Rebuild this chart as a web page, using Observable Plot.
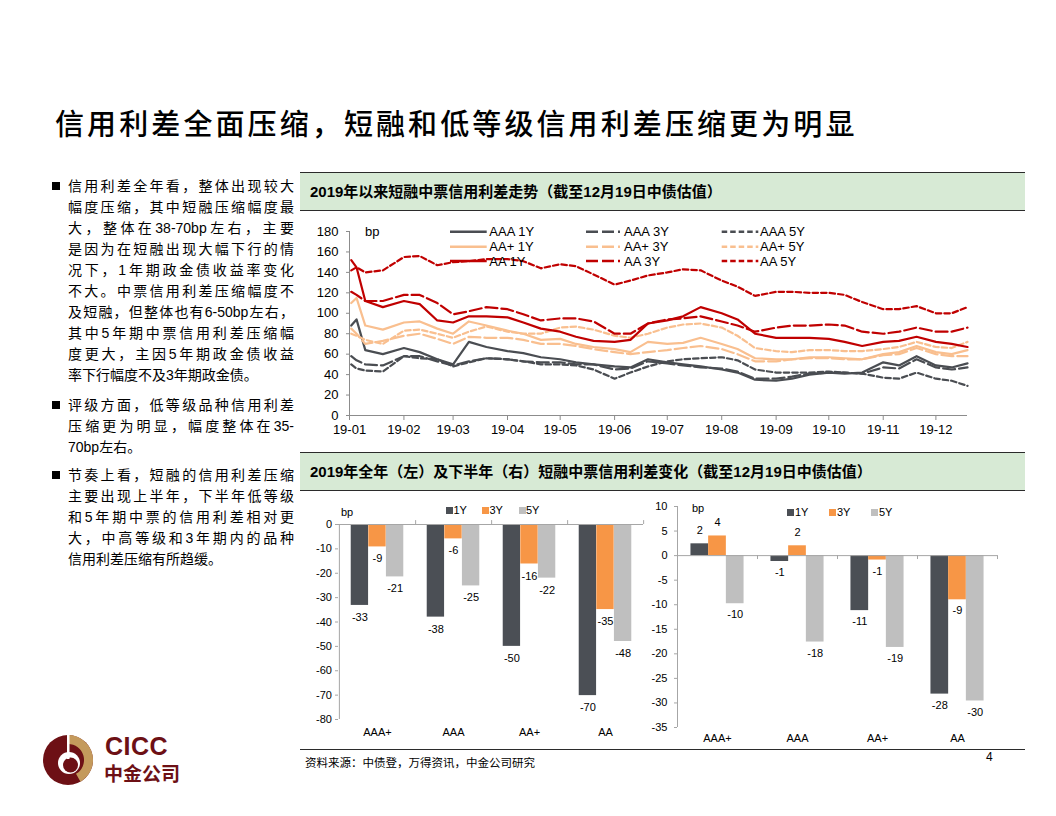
<!DOCTYPE html>
<html><head><meta charset="utf-8">
<script src="https://cdn.jsdelivr.net/npm/d3@7"></script>
<script src="https://cdn.jsdelivr.net/npm/@observablehq/plot@0.6"></script>
<style>
html,body{margin:0;padding:0;background:#fff;}
#page{position:relative;width:1056px;height:816px;overflow:hidden;background:#fff;font-family:"Liberation Sans","Noto Sans CJK SC",sans-serif;color:#000;}
.a{position:absolute;}
#title{position:absolute;left:55px;top:103px;font-family:"Noto Sans CJK SC";font-size:29px;font-weight:500;letter-spacing:3.1px;white-space:nowrap;line-height:38px;}
.bul{position:absolute;left:52px;width:8px;height:8px;background:#000;}
.ln{position:absolute;left:68px;width:226px;font-family:"Liberation Sans","Noto Sans CJK SC",sans-serif;font-size:14px;line-height:21px;height:21px;text-align:justify;text-align-last:justify;white-space:normal;}
.ln.last{text-align-last:left;}
.band{position:absolute;left:300px;width:715px;height:37px;background:#d7ead5;border-top:1.5px solid #2b2b2b;border-bottom:1.5px solid #2b2b2b;font-family:"Liberation Sans","Noto Sans CJK SC";font-weight:700;font-size:15px;line-height:37px;padding-left:10px;white-space:nowrap;}
.sq{position:absolute;width:7px;height:7px;}
.lg{position:absolute;font-size:11px;line-height:12px;}
</style></head><body><div id="page"></div>
<script>
// ---------- data ----------
const dates = ["2019-01-02","2019-01-05","2019-01-10","2019-01-20","2019-02-01","2019-02-10","2019-02-20","2019-03-01","2019-03-10","2019-03-20","2019-04-01","2019-04-10","2019-04-20","2019-05-01","2019-05-10","2019-05-20","2019-06-01","2019-06-10","2019-06-20","2019-07-01","2019-07-10","2019-07-20","2019-08-01","2019-08-10","2019-08-20","2019-09-01","2019-09-10","2019-09-20","2019-10-01","2019-10-10","2019-10-20","2019-11-01","2019-11-10","2019-11-20","2019-12-01","2019-12-10","2019-12-19"];
const AAA_1Y = [88,94,64,60,66,62,55,50,72,67,63,61,57,55,52,50,48,47,55,52,50,48,45,42,35,34,36,40,42,41,42,52,49,58,49,47,51];
const AAA_3Y = [58,54,50,49,58,58,53,49,53,56,55,53,52,52,50,50,45,46,53,51,49,47,46,43,36,36,38,41,42,42,41,47,46,55,47,45,47];
const AAA_5Y = [50,46,44,43,58,56,55,48,52,56,55,53,50,50,49,45,36,42,48,53,55,56,57,54,45,42,42,42,43,42,41,37,36,42,36,34,29];
const AAp_1Y = [110,115,88,84,91,92,85,80,92,88,83,80,74,75,70,67,65,62,72,70,71,76,70,65,56,55,55,57,57,56,55,60,62,68,62,60,64];
const AAp_3Y = [85,80,70,73,78,80,75,70,77,76,76,74,70,70,68,65,62,60,62,64,66,68,65,60,53,53,55,56,56,55,55,59,60,66,60,58,58];
const AAp_5Y = [80,78,74,70,83,84,80,76,82,87,82,80,80,86,87,84,78,76,80,86,89,90,86,78,66,63,62,64,64,63,63,65,67,72,67,66,72];
const AA_1Y = [152,145,112,106,112,109,93,91,97,97,96,91,85,82,77,73,72,74,90,93,97,106,100,94,80,76,76,76,75,72,68,72,73,77,72,70,67];
const AA_3Y = [121,118,112,112,118,118,110,99,102,106,104,99,93,95,95,92,80,80,90,94,95,97,92,88,82,86,88,88,89,88,82,80,82,86,82,82,86];
const AA_5Y = [142,145,140,142,155,156,147,150,151,153,153,151,144,148,146,138,128,132,137,140,143,142,132,126,117,121,121,120,120,118,111,104,104,107,100,100,106];
const lineSeries = [
  {name:"AAA 1Y", values:AAA_1Y},{name:"AAA 3Y", values:AAA_3Y},{name:"AAA 5Y", values:AAA_5Y},
  {name:"AA+ 1Y", values:AAp_1Y},{name:"AA+ 3Y", values:AAp_3Y},{name:"AA+ 5Y", values:AAp_5Y},
  {name:"AA 1Y", values:AA_1Y},{name:"AA 3Y", values:AA_3Y},{name:"AA 5Y", values:AA_5Y}
];
const legendOrder = [["AAA 1Y","AA+ 1Y","AA 1Y"],["AAA 3Y","AA+ 3Y","AA 3Y"],["AAA 5Y","AA+ 5Y","AA 5Y"]];
const lineTicks = [0,20,40,60,80,100,120,140,160,180];

const grades = ["AAA+","AAA","AA+","AA"];
const tenors = ["1Y","3Y","5Y"];
const full_1Y = [-33.2,-38.0,-50.0,-70.2];
const full_3Y = [-9.2,-5.9,-16.2,-34.9];
const full_5Y = [-21.5,-25.2,-22.0,-48.0];
const h2_1Y = [2.4,-1.2,-11.2,-28.2];
const h2_3Y = [4.0,2.0,-0.9,-9.0];
const h2_5Y = [-9.8,-17.6,-18.7,-29.6];
const fullTicks = [0,-10,-20,-30,-40,-50,-60,-70,-80];
const h2Ticks = [10,5,0,-5,-10,-15,-20,-25,-30,-35];

// ---------- styles ----------
const gradeColor = {"AAA":"#4a4d52","AA+":"#f9bf8f","AA":"#c00000"};
const tenorDash = {"1Y":null,"3Y":"12,4","5Y":"5.5,3"};
const barColor = {"1Y":"#4b4f55","3Y":"#f79646","5Y":"#bfbfbf"};
const axisGray = "#8c8c8c";

const page = document.getElementById("page");
function add(html){ page.insertAdjacentHTML("beforeend", html); }

// ---------- title & text ----------
add(`<div id="title">信用利差全面压缩，短融和低等级信用利差压缩更为明显</div>`);
const para1 = ["信用利差全年看，整体出现较大","幅度压缩，其中短融压缩幅度最","大，整体在38-70bp左右，主要","是因为在短融出现大幅下行的情","况下，1年期政金债收益率变化","不大。中票信用利差压缩幅度不","及短融，但整体也有6-50bp左右，","其中5年期中票信用利差压缩幅","度更大，主因5年期政金债收益","率下行幅度不及3年期政金债。"];
const para2 = ["评级方面，低等级品种信用利差","压缩更为明显，幅度整体在35-","70bp左右。"];
const para3 = ["节奏上看，短融的信用利差压缩","主要出现上半年，下半年低等级","和5年期中票的信用利差相对更","大，中高等级和3年期内的品种","信用利差压缩有所趋缓。"];
function para(lines, top){
  add(`<div class="bul" style="top:${top+6.5}px"></div>`);
  lines.forEach((t,i)=>{
    const last = i===lines.length-1;
    add(`<div class="ln${last?" last":""}" style="top:${top+i*21.1}px">${t}</div>`);
  });
}
para(para1,175.5); para(para2,394.5); para(para3,464.5);

add(`<div class="band" style="top:172px">2019年以来短融中票信用利差走势（截至12月19日中债估值）</div>`);
add(`<div class="band" style="top:452px">2019年全年（左）及下半年（右）短融中票信用利差变化（截至12月19日中债估值）</div>`);

// ---------- line chart ----------
const parse = d3.utcParse("%Y-%m-%d");
const lineRows = lineSeries.flatMap(s => dates.map((d,i)=>({date:parse(d), value:s.values[i], series:s.name})));
const xDomain = [parse("2019-01-01"), parse("2019-12-19")];
const months = d3.utcMonth.range(parse("2019-01-01"), parse("2019-12-02"));
const linePlot = Plot.plot({
  width:730, height:230, marginLeft:49, marginRight:63, marginTop:16, marginBottom:30,
  style:{fontFamily:"'Liberation Sans', Arial, sans-serif", fontSize:"13px", color:"#000", background:"transparent", overflow:"visible"},
  x:{type:"utc", domain:xDomain},
  y:{domain:[0,180]},
  marks:[
    Plot.axisY({ticks:lineTicks, tickSize:3, tickPadding:8, stroke:axisGray, fill:"#000", label:null, tickFormat:d=>String(d)}),
    Plot.axisX({ticks:months, tickFormat:d3.utcFormat("%y-%m"), tickSize:5, tickPadding:4, stroke:axisGray, fill:"#000", label:null}),
    Plot.ruleX([xDomain[0]], {stroke:axisGray}),
    Plot.ruleY([0], {stroke:axisGray}),
    ...lineSeries.map(s => {
      const [g,t] = s.name.split(" ");
      return Plot.line(lineRows.filter(r=>r.series===s.name), {x:"date", y:"value", stroke:gradeColor[g], strokeWidth:2.2, strokeDasharray:tenorDash[t]});
    })
  ]
});
const lw = document.createElement("div");
lw.className="a"; lw.style.left="300px"; lw.style.top="215px";
lw.appendChild(linePlot); page.appendChild(lw);

// legend overlay for line chart
(function(){
  const svg = d3.select(page).append("svg").attr("class","a").style("left","300px").style("top","215px")
    .attr("width",730).attr("height",60).style("overflow","visible");
  const colX = [[150,186.7,189.3],[286,320,324],[421.7,458.3,460]];
  const rowY = [16.7,31.7,46];
  legendOrder.forEach((col,ci)=>col.forEach((name,ri)=>{
    const [g,t] = name.split(" ");
    svg.append("line").attr("x1",colX[ci][0]).attr("x2",colX[ci][1]).attr("y1",rowY[ri]).attr("y2",rowY[ri])
      .attr("stroke",gradeColor[g]).attr("stroke-width",2.4).attr("stroke-dasharray",tenorDash[t]);
    svg.append("text").attr("x",colX[ci][2]).attr("y",rowY[ri]).attr("dy","0.36em").text(name)
      .style("font-family","'Liberation Sans', Arial, sans-serif").style("font-size","13px");
  }));
  svg.append("text").attr("x",65).attr("y",16.7).attr("dy","0.36em").text("bp")
    .style("font-family","'Liberation Sans', Arial, sans-serif").style("font-size","13px");
})();

// ---------- bar charts ----------
function barPlot(vals, o){
  const rows = tenors.flatMap(t => grades.map((g,i)=>({grade:g, tenor:t, value:vals[t][i]})));
  const bw = (o.width - o.ml - o.mr)/grades.length;
  const inset = (bw - o.barW)/2;
  const off = {"1Y":-o.barW, "3Y":0, "5Y":o.barW};
  const fmt = r => String(Math.round(r.value));
  const marks = [
    Plot.axisY({ticks:o.ticks, tickSize:3, tickPadding:o.tp, stroke:"#a6a6a6", fill:"#000", tickFormat:d=>String(d), label:null}),
    Plot.axisX({tickSize:0, tickPadding:o.xtp, fill:"#000", label:null}),
    Plot.ruleX([grades[0]], {dx:-bw/2, stroke:"#a6a6a6"}),
  ];
  tenors.forEach(t=>{
    const sub = rows.filter(r=>r.tenor===t);
    marks.push(Plot.barY(sub, {x:"grade", y:"value", fill:barColor[t], insetLeft:inset, insetRight:inset, dx:off[t]}));
  });
  marks.push(Plot.ruleY([0], {stroke:"#a6a6a6"}));
  marks.push(Plot.ruleX(grades, {dx:bw/2, y1:0, y2:o.sepLen, stroke:"#a6a6a6"}));
  tenors.forEach(t=>{
    const sub = rows.filter(r=>r.tenor===t);
    marks.push(Plot.text(sub.filter(r=>r.value<0), {x:"grade", y:"value", text:fmt, dx:off[t], dy:o.dyNeg}));
    marks.push(Plot.text(sub.filter(r=>r.value>=0), {x:"grade", y:"value", text:fmt, dx:off[t], dy:-o.dyPos}));
  });
  return Plot.plot({
    width:o.width, height:o.height, marginLeft:o.ml, marginRight:o.mr, marginTop:o.mt, marginBottom:o.mb,
    style:{fontFamily:"'Liberation Sans', Arial, sans-serif", fontSize:"11px", color:"#000", background:"transparent", overflow:"visible"},
    x:{type:"band", domain:grades, padding:0},
    y:{domain:o.domain},
    marks
  });
}
const leftPlot = barPlot({"1Y":full_1Y,"3Y":full_3Y,"5Y":full_5Y},
  {width:350,height:250,ml:38,mr:7,mt:29,mb:26,barW:17.6,ticks:fullTicks,domain:[-80,0],tp:3.5,xtp:9,dyNeg:12,dyPos:13,sepLen:1.6});
const rightPlot = barPlot({"1Y":h2_1Y,"3Y":h2_3Y,"5Y":h2_5Y},
  {width:360,height:250,ml:32,mr:8,mt:11,mb:18,barW:17.7,ticks:h2Ticks,domain:[-35,10],tp:7,xtp:7,dyNeg:11,dyPos:13,sepLen:-0.8});
[[leftPlot,300],[rightPlot,645]].forEach(([p,x])=>{
  const w = document.createElement("div"); w.className="a"; w.style.left=x+"px"; w.style.top="495px";
  w.appendChild(p); page.appendChild(w);
});
function barLegend(sqX, txX, y){
  tenors.forEach((t,i)=>{
    add(`<div class="sq" style="left:${sqX[i]}px;top:${y-3.5}px;background:${barColor[t]}"></div>`);
    add(`<div class="lg" style="left:${txX[i]}px;top:${y-6}px">${t}</div>`);
  });
}
barLegend([446,482,518.5],[453.5,489.5,526],510);
barLegend([787,829,871],[795,837,879],512);
add(`<div class="lg" style="left:341px;top:506px">bp</div>`);
add(`<div class="lg" style="left:692px;top:502px">bp</div>`);

// ---------- footer ----------
add(`<div class="a" style="left:300px;top:749px;width:725px;height:0;border-top:1.5px solid #2b2b2b"></div>`);
add(`<div class="a" style="left:305px;top:754px;font-family:'Noto Sans CJK SC';font-size:11.5px;line-height:16px;white-space:nowrap">资料来源：中债登，万得资讯，中金公司研究</div>`);
add(`<div class="a" style="left:986px;top:750px;font-size:12px;line-height:14px">4</div>`);

// ---------- logo ----------
add(`<svg class="a" style="left:38px;top:730px" width="60" height="60" viewBox="0 0 60 60">
<circle cx="30" cy="30" r="25" fill="#6d1015"/>
<path d="M30 5 A25 25 0 0 1 42.5 51.65 L38 43.86 A16 16 0 0 0 30 14 Z" fill="#c49a5c"/>
<circle cx="31" cy="33" r="11" fill="#fff"/>
<circle cx="32.5" cy="35" r="7.5" fill="#6d1015"/>
<rect x="29" y="5" width="2.5" height="24" fill="#fff"/>
</svg>`);
add(`<div class="a" style="left:105px;top:735px;font-family:'Liberation Sans';font-weight:700;font-size:25px;line-height:22px;height:22px;color:#6d1015;letter-spacing:0.5px">CICC</div>`);
add(`<div class="a" style="left:104px;top:763px;font-family:'Noto Sans CJK SC';font-weight:700;font-size:19px;line-height:20px;height:20px;color:#6d1015">中金公司</div>`);
</script></body></html>
